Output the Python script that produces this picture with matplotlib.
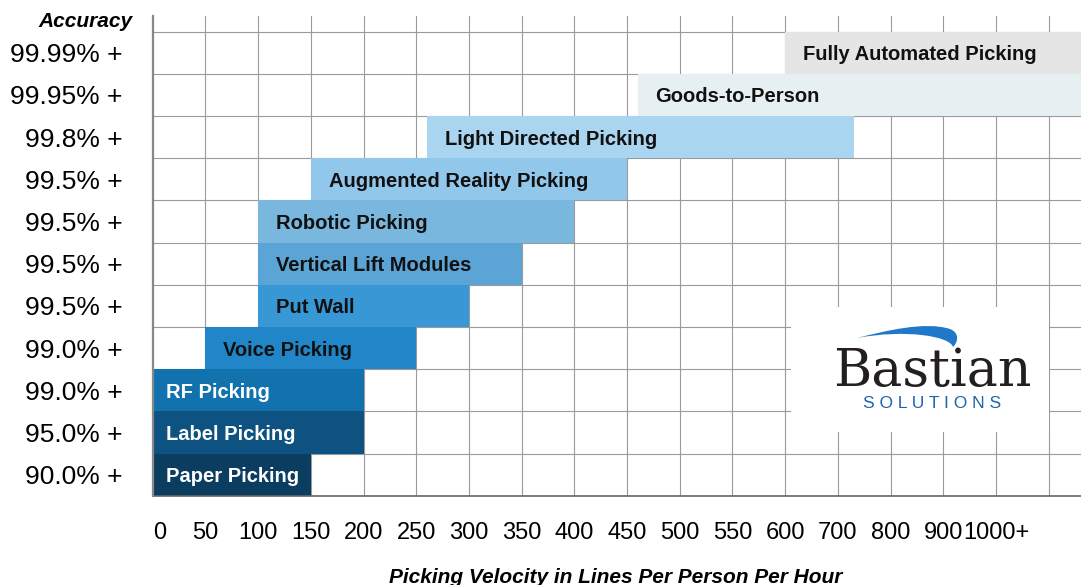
import numpy as np
import matplotlib
matplotlib.use("Agg")
import matplotlib.pyplot as plt
from matplotlib.patches import Rectangle, PathPatch
from matplotlib.path import Path

# ---------------- data ----------------
methods = ["Paper Picking", "Label Picking", "RF Picking", "Voice Picking", "Put Wall",
           "Vertical Lift Modules", "Robotic Picking", "Augmented Reality Picking",
           "Light Directed Picking", "Goods-to-Person", "Fully Automated Picking"]
accuracy = ["90.0% +", "95.0% +", "99.0% +", "99.0% +", "99.5% +", "99.5% +",
            "99.5% +", "99.5% +", "99.8% +", "99.95% +", "99.99% +"]
vel_start = [0, 0, 0, 50, 100, 100, 100, 150, 260, 460, 600]
vel_end = [150, 200, 200, 250, 300, 350, 400, 450, 730, 1200, 1200]   # 1200 = open ended ("1000+")
tick_values = [0, 50, 100, 150, 200, 250, 300, 350, 400, 450, 500, 550, 600, 700, 800, 900, 1000]
tick_labels = ["0", "50", "100", "150", "200", "250", "300", "350", "400", "450", "500",
               "550", "600", "700", "800", "900", "1000+"]
bar_colors = ["#0b3d60", "#0d5280", "#1272ae", "#2186c8", "#3898d5", "#5aa5d5",
              "#79b7de", "#92c7ec", "#a9d5f0", "#e6eff1", "#e5e5e5"]
text_colors = ["white", "white", "white"] + ["#111111"] * 8

# ---------------- figure ----------------
W, H = 1081, 585
fig = plt.figure(figsize=(W / 100, H / 100), dpi=100)
plt.rcParams['font.family'] = ['Liberation Sans', 'DejaVu Sans']

def fx(px):
    return px / W

def fy(py):
    return 1 - py / H

ax_left, ax_bottom_px, ax_top_px = 152.7, 495.7, 16.0
ax = fig.add_axes([fx(ax_left), fy(ax_bottom_px), 1 - fx(ax_left),
                   (ax_bottom_px - ax_top_px) / H])

# piecewise scale: evenly spaced tick positions
anchor_v = np.array([-1000.0] + tick_values + [10000.0])
anchor_i = np.array([-20.0] + list(range(len(tick_values))) + [16 + 90.0])

def fwd(v):
    return np.interp(v, anchor_v, anchor_i)

def inv(i):
    return np.interp(i, anchor_i, anchor_v)

ax.set_xscale('function', functions=(fwd, inv))
ax.set_xlim(0, inv((W - ax_left) / 52.7))
n = len(methods)
ax.set_ylim(0, n + (31.7 - ax_top_px) / 42.2)

# grid
for v in tick_values[1:] + [1100]:
    ax.axvline(v, color="#9a9a9a", lw=0.8, zorder=0)
for r in range(1, n + 1):
    ax.axhline(r, color="#9a9a9a", lw=0.8, zorder=0)

# bars
for i in range(n):
    ax.barh(i + 0.5, vel_end[i] - vel_start[i], left=vel_start[i], height=1.0,
            color=bar_colors[i], edgecolor='none', zorder=2)
    off = 9.5 if text_colors[i] == "white" else 13
    ax.annotate(methods[i], (vel_start[i], i + 0.5), xytext=(off, 0),
                textcoords='offset points', va='center_baseline', ha='left',
                fontsize=14.5, fontweight='bold', color=text_colors[i], zorder=3)

# axes styling
for s in ['top', 'right']:
    ax.spines[s].set_visible(False)
ax.spines['left'].set_color('#888888')
ax.spines['left'].set_linewidth(1.6)
ax.spines['bottom'].set_color('#666666')
ax.spines['bottom'].set_linewidth(1.2)
ax.spines['left'].set_zorder(4)

ax.set_yticks([i + 0.5 for i in range(n)])
ax.set_yticklabels(accuracy, fontsize=19)
ax.tick_params(axis='y', length=0, pad=22)
ax.set_xticks(tick_values)
ax.set_xticklabels(tick_labels, fontsize=17)
ax.tick_params(axis='x', length=0, pad=19)
ax.get_xticklabels()[0].set_horizontalalignment('left')

# titles
fig.text(fx(133), fy(27), "Accuracy", ha='right', va='baseline', fontsize=15,
         fontweight='bold', fontstyle='italic')
fig.text(fx(615.5), fy(583), "Picking Velocity in Lines Per Person Per Hour",
         ha='center', va='baseline', fontsize=15, fontweight='bold', fontstyle='italic')

# logo box
fig.add_artist(Rectangle((fx(791), fy(432)), fx(1049 - 791), (432 - 307) / H,
                         transform=fig.transFigure, facecolor='white',
                         edgecolor='none', zorder=5))
pts = [(857, 338), (885, 331), (925, 321), (950, 329),
       (960, 333), (958, 342), (953, 347),
       (950, 336), (905, 329), (857, 338)]
codes = [Path.MOVETO, Path.CURVE4, Path.CURVE4, Path.CURVE4,
         Path.CURVE4, Path.CURVE4, Path.CURVE4,
         Path.CURVE4, Path.CURVE4, Path.CURVE4]
swoosh = Path([(fx(a), fy(b)) for a, b in pts], codes)
fig.add_artist(PathPatch(swoosh, transform=fig.transFigure, facecolor='#1f78c8',
                         edgecolor='none', zorder=6))
fig.text(fx(833), fy(386), "Bastian", ha='left', va='baseline', fontsize=37.5,
         family='DejaVu Serif', color='#231f20', zorder=6)
fig.text(fx(932), fy(408), "S O L U T I O N S", ha='center', va='baseline',
         fontsize=12.5, color='#1e63ad', zorder=6)

fig.savefig("out.png", dpi=100)
